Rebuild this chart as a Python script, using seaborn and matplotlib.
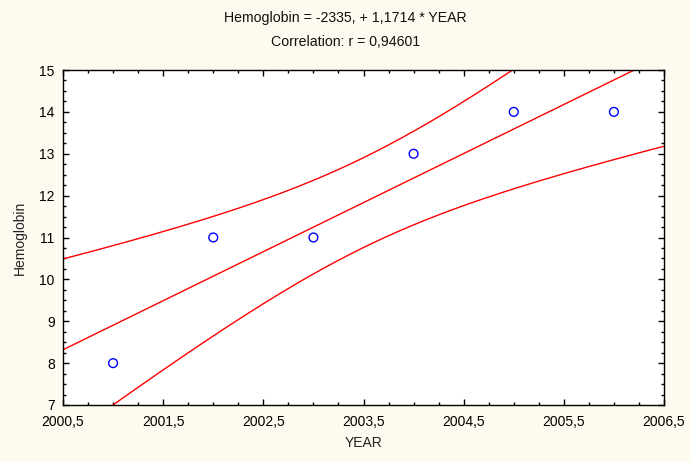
import numpy as np
import pandas as pd
import matplotlib
matplotlib.use("Agg")
import matplotlib.pyplot as plt
from matplotlib.ticker import MultipleLocator
import seaborn as sns

# ---- data ----
years = [2001, 2002, 2003, 2004, 2005, 2006]
hemoglobin = [8, 11, 11, 13, 14, 14]
x_ticks = [2000.5, 2001.5, 2002.5, 2003.5, 2004.5, 2005.5, 2006.5]
x_tick_labels = ["2000,5", "2001,5", "2002,5", "2003,5", "2004,5", "2005,5", "2006,5"]
y_ticks = [7, 8, 9, 10, 11, 12, 13, 14, 15]
y_tick_labels = ["7", "8", "9", "10", "11", "12", "13", "14", "15"]
title_lines = ["Hemoglobin = -2335, + 1,1714 * YEAR", "Correlation: r = 0,94601"]
conf_t = 3.13  # band multiplier as drawn in the reference

sns.set_theme(style="white")
plt.rcParams["font.family"] = ["Liberation Sans", "DejaVu Sans"]

df = pd.DataFrame({"YEAR": years, "Hemoglobin": hemoglobin})

# least squares fit and confidence band for the mean
x = np.asarray(years, float)
y = np.asarray(hemoglobin, float)
n = len(x)
xm, ym = x.mean(), y.mean()
sxx = ((x - xm) ** 2).sum()
b = ((x - xm) * (y - ym)).sum() / sxx
a = ym - b * xm
s = np.sqrt(((y - (a + b * x)) ** 2).sum() / (n - 2))
grid = np.linspace(x_ticks[0], x_ticks[-1], 300)
fit = a + b * grid
half = conf_t * s * np.sqrt(1 / n + (grid - xm) ** 2 / sxx)
lines = pd.DataFrame({"YEAR": grid, "fit": fit, "lo": fit - half, "hi": fit + half})

fig = plt.figure(figsize=(6.91, 4.62), dpi=100, facecolor="#FFFAF0")
ax = fig.add_axes([63 / 691, 1 - 405 / 462, (664 - 63) / 691, (405 - 70) / 462])
ax.set_facecolor("white")

for col in ["fit", "lo", "hi"]:
    sns.lineplot(data=lines, x="YEAR", y=col, ax=ax, color="#FF0000", linewidth=1.0)
sns.scatterplot(data=df, x="YEAR", y="Hemoglobin", ax=ax, s=40, marker="o",
                facecolor="none", edgecolor="#0000FF", linewidth=1.0, zorder=5)

ax.set_xlim(x_ticks[0], x_ticks[-1])
ax.set_ylim(y_ticks[0], y_ticks[-1])
ax.set_xticks(x_ticks)
ax.set_xticklabels(x_tick_labels)
ax.set_yticks(y_ticks)
ax.set_yticklabels(y_tick_labels)
ax.xaxis.set_minor_locator(MultipleLocator(0.25))
ax.yaxis.set_minor_locator(MultipleLocator(0.25))
ax.tick_params(which="both", direction="in", top=True, right=True, bottom=True, left=True,
               colors="black", labelsize=10, width=1)
ax.tick_params(which="major", length=4)
ax.tick_params(axis="x", which="major", pad=7)
ax.tick_params(axis="y", which="major", pad=6)
ax.tick_params(which="minor", length=2.5)
for sp in ax.spines.values():
    sp.set_color("black")
    sp.set_linewidth(1.0)

ax.set_xlabel("YEAR", fontsize=10, labelpad=5, color="#222222")
ax.set_ylabel("Hemoglobin", fontsize=10, labelpad=9, color="#222222")

fig.text(0.5, 1 - 18 / 462, title_lines[0], ha="center", va="center", fontsize=10.2, color="#111111")
fig.text(0.5, 1 - 42 / 462, title_lines[1], ha="center", va="center", fontsize=10.2, color="#111111")

fig.savefig("out.png", dpi=100, facecolor=fig.get_facecolor())
